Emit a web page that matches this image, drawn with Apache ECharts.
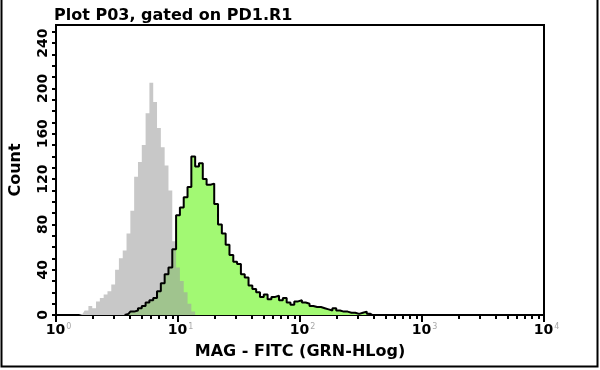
<!DOCTYPE html>
<html>
<head>
<meta charset="utf-8">
<script src="https://cdn.jsdelivr.net/npm/echarts@6/dist/echarts.min.js"></script>
<style>
html,body{margin:0;padding:0;background:#fff;}
#chart{width:600px;height:370px;}
</style>
</head>
<body>
<div id="chart"></div>
<script>
// Instrument channels (1024-channel, 4-decade log scale: value = 10^(ch/256))
const grayChannels = [40,48,56,64,72,80,88,96,104,112,120,128,136,144,152,160,168,176,184,192,200,208,216,224,232,240,248,256,264,272,280,288,296];
const grayCounts   = [0,0,1,4,8,6,12,15,18,21,27,40,50,57,72,92,122,135,150,178,205,188,165,148,132,110,65,42,30,20,10,3,0];

const greenChannels = [144,152,160,168,176,184,192,200,208,216,224,232,240,248,256,264,272,280,288,296,304,312,320,328,336,344,352,360,368,376,384,392,400,408,416,424,432,440,448,456,464,472,480,488,496,504,512,520,528,536,544,552,560,568,576,584,592,600,608,616,624,632,640,648,656,664];
const greenCounts   = [0,1,3,4,6,8,11,13,15,21,28,36,42,58,88,95,104,113,140,131,134,120,115,116,98,80,72,62,53,47,45,36,33,26,23,20,16,18,14,16,17,13,15,11,9,12,13,11,10,8,7,7,6,5,4,6,4,3,3,2,2,1,2,3,1,0];

const xMajorTicks = [1,10,100,1000,10000];
const xMinorTicks = [2,3,4,5,6,7,8,9,20,30,40,50,60,70,80,90,200,300,400,500,600,700,800,900,2000,3000,4000,5000,6000,7000,8000,9000];
const xTickExponents = ['0','1','2','3','4'];
const yLabelValues = [0,40,80,120,160,200,240];

const titleText = 'Plot P03, gated on PD1.R1';
const xName = 'MAG - FITC (GRN-HLog)';
const yName = 'Count';

const chToVal = ch => Math.pow(10, ch / 256);
const grayData = grayChannels.map((c, i) => [chToVal(c), grayCounts[i]]);
const greenData = greenChannels.map((c, i) => [chToVal(c), greenCounts[i]]);
const grayMap = {};
grayChannels.forEach((c, i) => { grayMap[c] = grayCounts[i]; });
const overlapData = greenChannels.filter(c => c in grayMap)
  .map(c => [chToVal(c), Math.min(grayMap[c], greenCounts[greenChannels.indexOf(c)])]);

const FONT = 'DejaVu Sans';
const chart = echarts.init(document.getElementById('chart'), null, {renderer: 'canvas'});

const baseX = {
  type: 'log', logBase: 10, min: 1, max: 10000, gridIndex: 0,
  splitLine: {show: false}, minorTick: {show: false}
};

chart.setOption({
  animation: false,
  backgroundColor: '#fff',
  title: {
    text: titleText, left: 49, top: 3,
    textStyle: {fontFamily: FONT, fontSize: 16, fontWeight: 'bold', color: '#000'}
  },
  grid: {
    left: 54, top: 25, right: 56, bottom: 55,
    show: true, borderColor: '#000', borderWidth: 2, backgroundColor: '#fff'
  },
  xAxis: [
    Object.assign({}, baseX, {
      position: 'bottom',
      name: xName, nameLocation: 'middle', nameGap: 29,
      nameTextStyle: {fontFamily: FONT, fontSize: 16, fontWeight: 'bold', color: '#000'},
      axisLine: {show: true, onZero: false, lineStyle: {color: '#000', width: 2}},
      axisTick: {show: true, length: 7, customValues: xMajorTicks, lineStyle: {color: '#000', width: 2}},
      axisLabel: {
        show: true, margin: 8, customValues: xMajorTicks,
        formatter: v => '{b|10}{s|' + xTickExponents[Math.round(Math.log10(v))] + '}',
        rich: {
          b: {fontFamily: FONT, fontSize: 14, fontWeight: 'bold', color: '#000', padding: [0, 0, 0, 5]},
          s: {fontFamily: FONT, fontSize: 8, color: '#a8a8a8', verticalAlign: 'top', padding: [0, 0, 6, 1]}
        }
      }
    }),
    Object.assign({}, baseX, {
      position: 'bottom',
      axisLine: {show: false, onZero: false},
      axisTick: {show: true, length: 4, customValues: xMinorTicks, lineStyle: {color: '#000', width: 2}},
      axisLabel: {show: false}
    })
  ],
  yAxis: {
    type: 'value', min: 0, max: 256, interval: 10,
    name: yName, nameLocation: 'middle', nameGap: 32, nameRotate: 90,
    nameTextStyle: {fontFamily: FONT, fontSize: 16, fontWeight: 'bold', color: '#000'},
    splitLine: {show: false},
    axisLine: {show: true, lineStyle: {color: '#000', width: 2}},
    axisTick: {show: true, length: 4, lineStyle: {color: '#000', width: 2}},
    axisLabel: {
      show: true, rotate: 90, margin: 6, showMaxLabel: false,
      fontFamily: FONT, fontSize: 14, fontWeight: 'bold', color: '#000',
      formatter: v => (yLabelValues.indexOf(v) >= 0 ? String(v) : '')
    }
  },
  graphic: [{
    type: 'polyline', silent: true,
    shape: {points: [[1.5, 0], [1.5, 366.5], [597.5, 366.5], [597.5, 0]]},
    style: {stroke: '#000', lineWidth: 2, fill: null}
  }],
  series: [
    {
      type: 'line', name: 'control', data: grayData, xAxisIndex: 0, step: 'middle',
      symbol: 'none', lineStyle: {width: 0, color: '#c8c8c8'},
      areaStyle: {color: '#c8c8c8', opacity: 1}, z: 2
    },
    {
      type: 'line', name: 'stained fill', data: greenData, xAxisIndex: 0, step: 'middle',
      symbol: 'none', lineStyle: {width: 0, color: '#a2f973'},
      areaStyle: {color: '#a2f973', opacity: 1}, z: 3
    },
    {
      type: 'line', name: 'overlap', data: overlapData, xAxisIndex: 0, step: 'middle',
      symbol: 'none', lineStyle: {width: 0, color: '#a0c48e'},
      areaStyle: {color: '#a0c48e', opacity: 1}, z: 4
    },
    {
      type: 'line', name: 'stained', data: greenData, xAxisIndex: 0, step: 'middle',
      symbol: 'none', lineStyle: {width: 2, color: '#000'}, z: 5
    }
  ]
});
</script>
</body>
</html>
